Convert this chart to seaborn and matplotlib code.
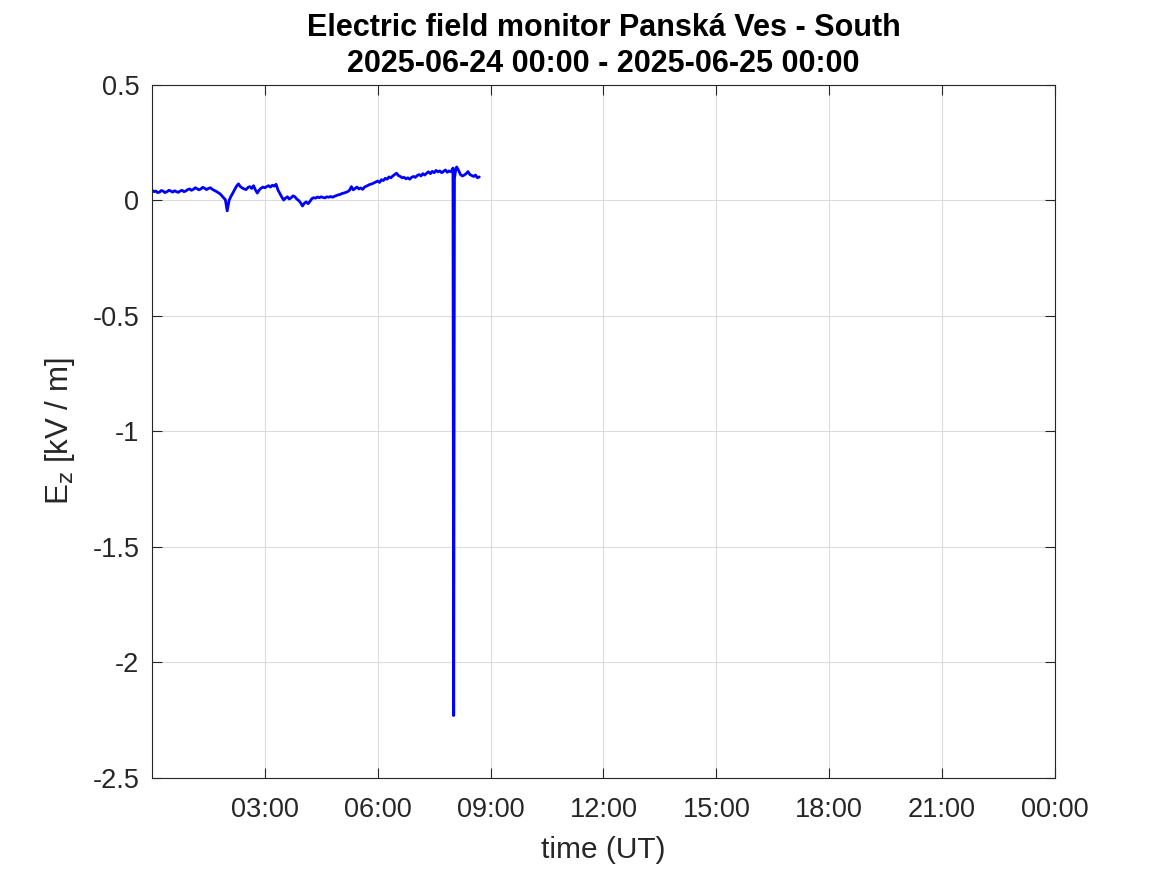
import matplotlib
matplotlib.use("Agg")
import matplotlib.pyplot as plt
import seaborn as sns
import pandas as pd

hours = [0.00, 0.05, 0.10, 0.15, 0.20, 0.25, 0.30, 0.35, 0.40, 0.45,
         0.50, 0.55, 0.60, 0.65, 0.70, 0.75, 0.80, 0.85, 0.90, 0.95,
         1.00, 1.05, 1.10, 1.15, 1.20, 1.25, 1.30, 1.35, 1.40, 1.45,
         1.50, 1.55, 1.60, 1.65, 1.70, 1.75, 1.80, 1.85, 1.90, 1.95,
         2.00, 2.05, 2.10, 2.15, 2.20, 2.25, 2.30, 2.35, 2.40, 2.45,
         2.50, 2.55, 2.60, 2.65, 2.70, 2.75, 2.80, 2.85, 2.90, 2.95,
         3.00, 3.05, 3.10, 3.15, 3.20, 3.25, 3.30, 3.35, 3.40, 3.45,
         3.50, 3.55, 3.60, 3.65, 3.70, 3.75, 3.80, 3.85, 3.90, 3.95,
         4.00, 4.05, 4.10, 4.15, 4.20, 4.25, 4.30, 4.35, 4.40, 4.45,
         4.50, 4.55, 4.60, 4.65, 4.70, 4.75, 4.80, 4.85, 4.90, 4.95,
         5.00, 5.05, 5.10, 5.15, 5.20, 5.25, 5.30, 5.35, 5.40, 5.45,
         5.50, 5.55, 5.60, 5.65, 5.70, 5.75, 5.80, 5.85, 5.90, 5.95,
         6.00, 6.05, 6.10, 6.15, 6.20, 6.25, 6.30, 6.35, 6.40, 6.45,
         6.50, 6.55, 6.60, 6.65, 6.70, 6.75, 6.80, 6.85, 6.90, 6.95,
         7.00, 7.05, 7.10, 7.15, 7.20, 7.25, 7.30, 7.35, 7.40, 7.45,
         7.50, 7.55, 7.60, 7.65, 7.70, 7.75, 7.80, 7.85, 7.90, 7.95,
         8.00, 8.02, 8.04, 8.08, 8.10, 8.15, 8.20, 8.25, 8.30, 8.35,
         8.40, 8.45, 8.50, 8.55, 8.60, 8.65, 8.70]
ez = [0.045, 0.038, 0.041, 0.034, 0.036, 0.043, 0.040, 0.034, 0.038, 0.044,
      0.041, 0.036, 0.042, 0.038, 0.035, 0.041, 0.044, 0.038, 0.041, 0.047,
      0.050, 0.044, 0.048, 0.055, 0.051, 0.046, 0.050, 0.057, 0.053, 0.047,
      0.052, 0.055, 0.049, 0.044, 0.040, 0.035, 0.030, 0.022, 0.012, 0.004,
      -0.045, 0.000, 0.018, 0.032, 0.048, 0.062, 0.072, 0.060, 0.054, 0.050,
      0.047, 0.056, 0.060, 0.052, 0.064, 0.046, 0.032, 0.045, 0.053, 0.058,
      0.055, 0.060, 0.064, 0.058, 0.066, 0.062, 0.070, 0.045, 0.030, 0.015,
      0.002, 0.010, 0.016, 0.006, 0.012, 0.020, 0.016, 0.006, 0.000, -0.010,
      -0.024, -0.012, -0.006, -0.014, -0.004, 0.008, 0.012, 0.010, 0.015, 0.012,
      0.016, 0.013, 0.011, 0.016, 0.014, 0.017, 0.014, 0.018, 0.021, 0.024,
      0.026, 0.030, 0.032, 0.035, 0.038, 0.044, 0.060, 0.046, 0.052, 0.058,
      0.050, 0.054, 0.048, 0.058, 0.062, 0.066, 0.070, 0.072, 0.076, 0.080,
      0.084, 0.078, 0.090, 0.086, 0.096, 0.092, 0.102, 0.098, 0.106, 0.112,
      0.118, 0.108, 0.104, 0.098, 0.100, 0.094, 0.098, 0.092, 0.100, 0.104,
      0.100, 0.108, 0.112, 0.106, 0.116, 0.110, 0.118, 0.124, 0.116, 0.126,
      0.120, 0.130, 0.124, 0.128, 0.120, 0.126, 0.132, 0.122, 0.128, 0.124,
      0.140, -2.230, 0.095, 0.140, 0.145, 0.130, 0.112, 0.106, 0.110, 0.116,
      0.125, 0.112, 0.108, 0.104, 0.110, 0.098, 0.102]

xtick_pos = [3, 6, 9, 12, 15, 18, 21, 24]
xtick_labels = ["03:00", "06:00", "09:00", "12:00", "15:00", "18:00", "21:00", "00:00"]
ytick_pos = [0.5, 0, -0.5, -1, -1.5, -2, -2.5]
ytick_labels = ["0.5", "0", "-0.5", "-1", "-1.5", "-2", "-2.5"]

title = "Electric field monitor Panská Ves - South\n2025-06-24 00:00 - 2025-06-25 00:00"

sns.set_theme(style="white")
plt.rcParams['font.family'] = ['Liberation Sans', 'DejaVu Sans']

df = pd.DataFrame({"hour": hours, "ez": ez})

fig = plt.figure(figsize=(11.67, 8.75), dpi=100)
ax = fig.add_axes([0.1302, 0.1109, 0.7738, 0.792])
sns.lineplot(data=df, x="hour", y="ez", ax=ax, color=(0, 0, 1), linewidth=2.0,
             estimator=None, sort=False)

ax.set_xlim(0, 24)
ax.set_ylim(-2.5, 0.5)
ax.set_xticks(xtick_pos)
ax.set_xticklabels(xtick_labels)
ax.set_yticks(ytick_pos)
ax.set_yticklabels(ytick_labels)
ax.grid(True, color="#dcdcdc", linewidth=0.8)
ax.set_axisbelow(True)
for s in ax.spines.values():
    s.set_color("#262626")
    s.set_linewidth(0.8)
ax.tick_params(direction="in", length=7, width=0.8, color="#262626",
               labelsize=19.5, labelcolor="#262626", top=True, right=True,
               bottom=True, left=True, pad=9)
ax.tick_params(axis="x", pad=14)
ax.set_xlabel("time (UT)", fontsize=21.5, color="#262626", labelpad=9)
ax.set_ylabel(r"E$_{\mathrm{z}}$ [kV / m]", fontsize=22.5, color="#262626", labelpad=11)
ax.set_title(title, fontsize=22, fontweight="bold", color="black", pad=9, linespacing=1.3)

fig.savefig("out.png", dpi=100, facecolor="white")
